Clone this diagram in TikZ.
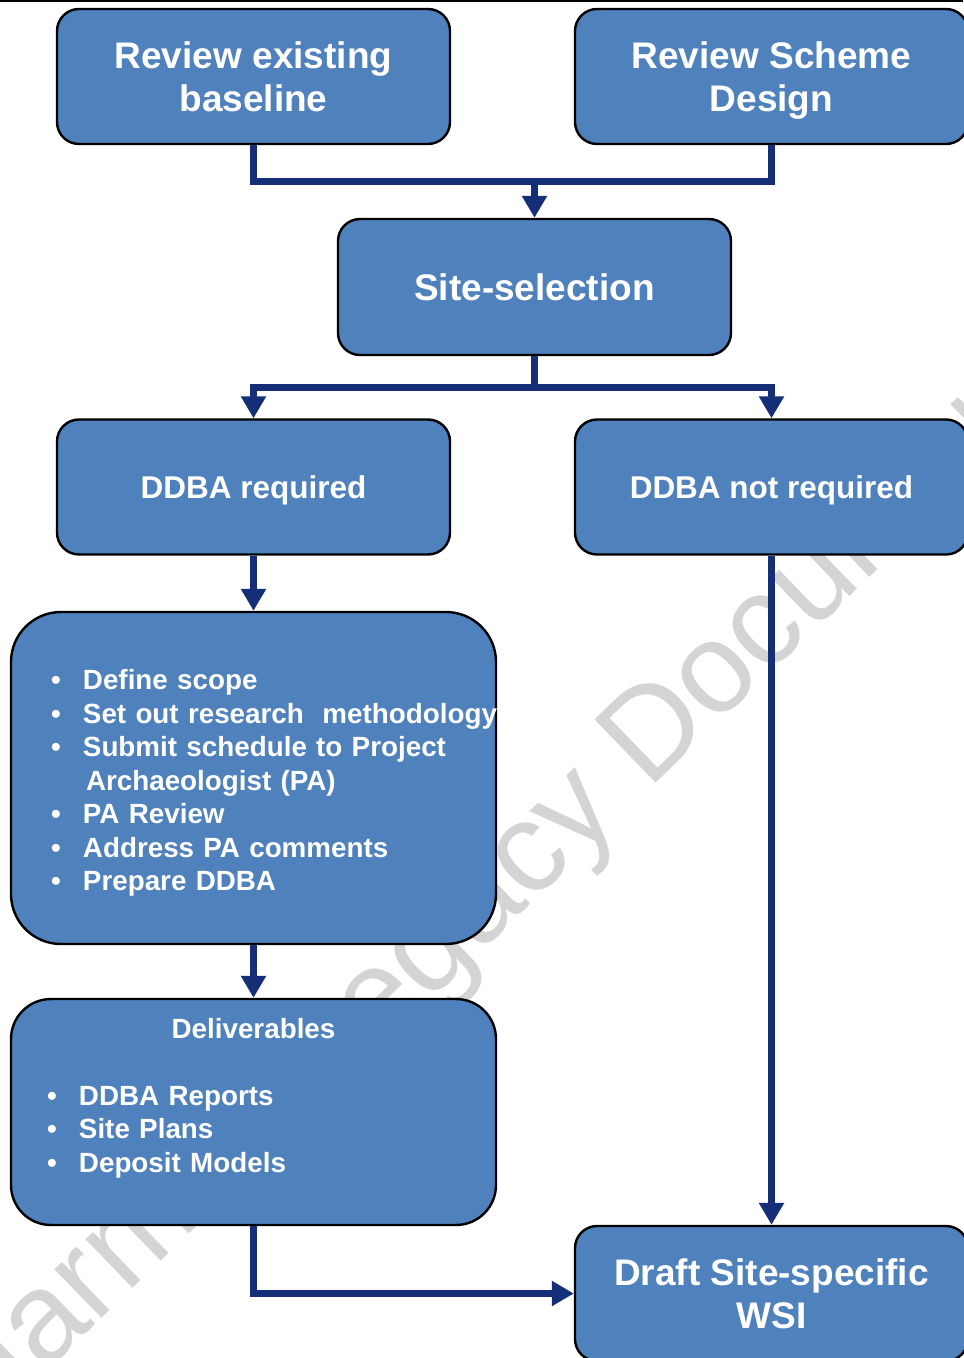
\documentclass[tikz,border=0pt]{standalone}
\usepackage{fontspec}
\setmainfont{Liberation Sans}
\usepackage{tikz}
\usetikzlibrary{positioning, arrows.meta}

\definecolor{boxblue}{HTML}{4F81BD}
\definecolor{flownavy}{HTML}{152E78}
\definecolor{markgray}{HTML}{D4D4D4}

\newcommand{\bul}{\makebox[16pt][l]{\textbullet}}

\begin{document}
\begin{tikzpicture}[x=0.5pt, y=-0.5pt,
    stepbox/.style={draw=black, line width=1.2pt, fill=boxblue, text=white,
        rounded corners=11pt, align=center, inner sep=0pt,
        minimum width=196.5pt, minimum height=67.5pt},
    bigtext/.style={font=\bfseries\fontsize{18.5pt}{21.5pt}\selectfont, text depth=0pt},
    midtext/.style={font=\bfseries\fontsize{15.75pt}{19pt}\selectfont, text depth=0pt},
    listbox/.style={stepbox, minimum width=242.5pt, align=left,
        font=\bfseries\fontsize{13.9pt}{16.75pt}\selectfont},
    flow/.style={draw=flownavy, line width=3.5pt, -{Triangle[length=11pt, width=12pt]}},
    flowline/.style={draw=flownavy, line width=3.5pt}]
    \useasboundingbox (0,0) rectangle (963,1358);
    \draw[line width=1pt] (0,1) -- (963,1);

    \node[rotate=44, anchor=base west, text=markgray,
        font=\fontsize{64pt}{64pt}\selectfont] (mark) at (-27,1443) {Harmful Legacy Document};

    \node[stepbox, bigtext] (base) at (253.5,76.5) {Review existing\\baseline};
    \node[stepbox, bigtext] (scheme) at (771.5,76.5) {Review Scheme\\Design};
    \node[stepbox, bigtext, minimum height=68pt] (sites) at (534.5,287) {Site-selection};
    \node[stepbox, midtext] (ddbareq) at (253.5,487) {DDBA required};
    \node[stepbox, midtext] (ddbano) at (771.5,487) {DDBA not required};
    \node[listbox, rounded corners=25pt, minimum height=166pt, text width=202.5pt,
        inner xsep=20pt] (tasks) at (253.5,778) {%
        \bul\rule{0pt}{15pt}Define scope\\
        \bul\mbox{Set out research~~methodology}\\
        \bul Submit schedule to Project\\
        \hspace*{17.5pt}Archaeologist (PA)\\
        \bul PA Review\\
        \bul Address PA comments\\
        \bul Prepare DDBA};
    \node[listbox, rounded corners=20pt, minimum height=113pt, text width=206.5pt,
        inner xsep=18pt] (deliv) at (253.5,1112) {%
        \makebox[\linewidth]{Deliverables}\\[16.75pt]
        \bul DDBA Reports\\
        \bul Site Plans\\
        \bul Deposit Models\\
        \mbox{}};
    \node[stepbox, bigtext] (wsi) at (771.5,1293.5) {Draft Site-specific\\WSI};

    \coordinate (join1) at (534.5,182);
    \coordinate (join2) at (534.5,387);
    \draw[flowline] (scheme.south) |- (join1);
    \draw[flow] (base.south) |- (join1) -- (sites.north);
    \draw[flowline] (sites.south) -- (join2);
    \draw[flow] (join2) -| (ddbareq.north);
    \draw[flow] (join2) -| (ddbano.north);
    \draw[flow] (ddbareq.south) -- (tasks.north);
    \draw[flow] (tasks.south) -- (deliv.north);
    \draw[flow] (deliv.south) |- (wsi.west);
    \draw[flow] (ddbano.south) -- (wsi.north);
\end{tikzpicture}
\end{document}
